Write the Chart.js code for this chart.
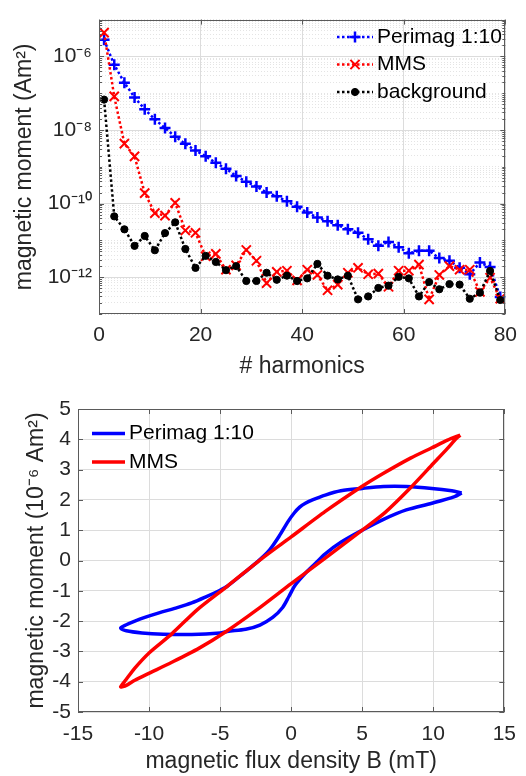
<!DOCTYPE html>
<html>
<head>
<meta charset="utf-8">
<script src="https://cdn.jsdelivr.net/npm/chart.js@4.4.0/dist/chart.umd.min.js"></script>
<style>
  html, body { margin: 0; padding: 0; background: #fff; }
  #top { position: absolute; left: 0; top: 0; width: 526px; height: 385px; }
  #bottom { position: absolute; left: 0; top: 385px; width: 526px; height: 391px; }
</style>
</head>
<body>
<div id="top"><canvas id="harmChart"></canvas></div>
<div id="bottom"><canvas id="loopChart"></canvas></div>
<script>
// ---- top: harmonic spectrum ----
const harmonics = [1, 3, 5, 7, 9, 11, 13, 15, 17, 19, 21, 23, 25, 27, 29, 31, 33, 35, 37, 39,
                   41, 43, 45, 47, 49, 51, 53, 55, 57, 59, 61, 63, 65, 67, 69, 71, 73, 75, 77, 79];
const perimagHarm = [2.83e-6, 5.9e-7, 1.93e-7, 7.7e-8, 3.66e-8, 1.95e-8, 1.13e-8, 6.6e-9, 4.2e-9, 2.77e-9,
                     1.92e-9, 1.28e-9, 8.9e-10, 5.6e-10, 3.9e-10, 2.9e-10, 2.0e-10, 1.58e-10, 1.15e-10, 8.2e-11,
                     5.7e-11, 4.2e-11, 3.3e-11, 2.6e-11, 2.0e-11, 1.62e-11, 1.07e-11, 7.1e-12, 9.1e-12, 6.5e-12,
                     4.5e-12, 5.2e-12, 5.2e-12, 3.3e-12, 2.8e-12, 1.8e-12, 1.2e-12, 2.5e-12, 1.9e-12, 2.9e-13];
const mmsHarm = [4.44e-6, 8.2e-8, 4.25e-9, 1.92e-9, 1.93e-10, 5.5e-11, 4.7e-11, 1.05e-10, 1.86e-11, 1.61e-11,
                 3.7e-12, 4.3e-12, 1.6e-12, 2.1e-12, 5.5e-12, 2.8e-12, 6.9e-13, 1.4e-12, 1.5e-12, 8.2e-13,
                 1.6e-12, 1.15e-12, 4.4e-13, 6.3e-13, 1.32e-12, 1.8e-12, 1.2e-12, 1.25e-12, 5.5e-13, 1.5e-12,
                 1.5e-12, 2.2e-12, 2.5e-13, 1.15e-12, 2.0e-12, 1.6e-12, 1.6e-12, 4.0e-13, 9.7e-13, 2.6e-13];
const backgroundHarm = [6.7e-8, 4.5e-11, 2.0e-11, 7.1e-12, 1.32e-11, 5.4e-12, 1.58e-11, 3.1e-11, 5.85e-12, 1.79e-12,
                        3.8e-12, 2.6e-12, 1.55e-12, 2.0e-12, 7.9e-13, 7.9e-13, 1.32e-12, 8.5e-13, 1.1e-12, 7.9e-13,
                        9.3e-13, 2.3e-12, 1.1e-12, 8.7e-13, 1.1e-12, 2.5e-13, 3.0e-13, 5.1e-13, 5.9e-13, 1.02e-12,
                        9.3e-13, 3.0e-13, 7.4e-13, 4.7e-13, 6.5e-13, 6.3e-13, 2.6e-13, 3.8e-13, 1.48e-12, 2.4e-13];
const harmXTicks = [0, 20, 40, 60, 80];
const harmYTickExp = [-12, -10, -8, -6];
const harmYTickLabels = ['10⁻¹²', '10⁻¹⁰', '10⁻⁸', '10⁻⁶'];

// ---- bottom: hysteresis loops, upper branch right->left then lower branch left->right ----
const perimagB = [12.0, 11.3, 9.9, 8.1, 6.5, 5.0, 3.5, 2.4, 1.5, 1.0, 0.6, 0.2, -0.2, -0.85, -1.5, -2.2, -3.3, -4.5,
                  -5.0, -6.0, -7.0, -8.2, -9.3, -10.3, -11.0, -11.6, -12.0,
                  -11.6, -10.5, -9.0, -7.0, -5.0, -4.5, -3.2, -2.2, -1.3, -0.6, -0.15, 0.3, 1.0, 1.7,
                  2.4, 3.5, 5.0, 6.5, 8.1, 9.9, 11.5, 12.0];
const perimagM = [2.23, 2.30, 2.38, 2.44, 2.44, 2.38, 2.30, 2.16, 2.00, 1.89, 1.76, 1.56, 1.30, 0.80, 0.36, 0.03, -0.40, -0.85,
                  -0.98, -1.20, -1.40, -1.58, -1.73, -1.88, -2.00, -2.12, -2.23,
                  -2.32, -2.39, -2.43, -2.44, -2.39, -2.34, -2.27, -2.13, -1.88, -1.55, -1.18, -0.80, -0.42, -0.10,
                  0.22, 0.60, 1.00, 1.36, 1.67, 1.89, 2.11, 2.23];
const mmsB = [11.9, 11.0, 9.9, 8.4, 6.5, 5.0, 2.4, 0.0, -2.0, -4.5, -6.6, -8.4, -10.0, -11.0, -11.6, -12.0,
              -11.6, -11.0, -9.9, -8.4, -6.5, -4.6, -2.4, 0.0, 2.4, 5.0, 6.6, 8.4, 10.0, 11.0, 11.6, 11.9];
const mmsM = [4.14, 3.97, 3.72, 3.38, 2.88, 2.45, 1.62, 0.78, 0.09, -0.85, -1.62, -2.42, -3.05, -3.55, -3.92, -4.17,
              -4.12, -3.95, -3.70, -3.36, -2.90, -2.35, -1.62, -0.76, 0.08, 1.00, 1.58, 2.40, 3.20, 3.70, 4.02, 4.14];
const loopXTicks = [-15, -10, -5, 0, 5, 10, 15];
const loopYTicks = [-5, -4, -3, -2, -1, 0, 1, 2, 3, 4, 5];

const FONT = '"Liberation Sans", Arial, Helvetica, sans-serif';
const AXIS_COLOR = '#262626';
Chart.defaults.font.family = FONT;
Chart.defaults.color = AXIS_COLOR;

function toPoints(xs, ys) {
  return xs.map((x, i) => ({ x: x, y: ys[i] }));
}

function isLabelledDecade(v) {
  const e = Math.log10(v);
  return Math.abs(e - Math.round(e)) < 1e-6 && harmYTickExp.includes(Math.round(e));
}

// box round the plot and short inward ticks, as matlab draws them
const matlabBox = {
  id: 'matlabBox',
  afterDraw(chart, args, opts) {
    const { ctx, chartArea: a, scales } = chart;
    ctx.save();
    ctx.strokeStyle = '#5a5a5a';
    ctx.lineWidth = 1;
    ctx.strokeRect(Math.round(a.left) + 0.5, Math.round(a.top) + 0.5,
                   Math.round(a.right - a.left) - 1, Math.round(a.bottom - a.top) - 1);
    ctx.beginPath();
    scales.x.ticks.forEach(t => {
      const px = Math.round(scales.x.getPixelForValue(t.value)) + 0.5;
      ctx.moveTo(px, a.bottom); ctx.lineTo(px, a.bottom - 5);
      ctx.moveTo(px, a.top); ctx.lineTo(px, a.top + 5);
    });
    scales.y.ticks.forEach(t => {
      const py = Math.round(scales.y.getPixelForValue(t.value)) + 0.5;
      const len = opts.logY && !isLabelledDecade(t.value) ? 3 : 5;
      ctx.moveTo(a.left, py); ctx.lineTo(a.left + len, py);
      ctx.moveTo(a.right, py); ctx.lineTo(a.right - len, py);
    });
    ctx.stroke();
    ctx.restore();
  }
};

// legend drawn inside the axes
const innerLegend = {
  id: 'innerLegend',
  afterDraw(chart, args, opts) {
    const ctx = chart.ctx;
    ctx.save();
    ctx.font = opts.size + 'px ' + FONT;
    ctx.textBaseline = 'middle';
    chart.data.datasets.forEach((ds, k) => {
      const y = opts.y + k * opts.spacing;
      ctx.strokeStyle = ds.borderColor;
      ctx.lineWidth = opts.lineWidth || ds.borderWidth;
      ctx.setLineDash(ds.borderDash || []);
      ctx.beginPath();
      ctx.moveTo(opts.x, y);
      ctx.lineTo(opts.x + opts.len, y);
      ctx.stroke();
      ctx.setLineDash([]);
      if (ds.pointRadius > 0) {
        ctx.fillStyle = ds.pointBackgroundColor;
        ctx.strokeStyle = ds.pointBorderColor;
        ctx.lineWidth = ds.pointBorderWidth;
        Chart.helpers.drawPoint(ctx, { pointStyle: ds.pointStyle, radius: ds.pointRadius, rotation: 0,
                                       borderWidth: ds.pointBorderWidth }, opts.x + opts.len / 2, y);
      }
      ctx.fillStyle = '#000';
      ctx.fillText(ds.label, opts.x + opts.len + opts.gap, y);
    });
    ctx.restore();
  }
};

const minorGrid = '#e4e4e4';
const majorGrid = '#dcdcdc';

new Chart(document.getElementById('harmChart'), {
  type: 'line',
  data: {
    datasets: [
      { label: 'Perimag 1:10', data: toPoints(harmonics, perimagHarm), order: 3,
        borderColor: '#0000ff', borderWidth: 2.5, borderDash: [2.5, 2.5], tension: 0,
        pointStyle: 'cross', pointRadius: 5.5, pointBorderWidth: 2.5,
        pointBorderColor: '#0000ff', pointBackgroundColor: '#0000ff' },
      { label: 'MMS', data: toPoints(harmonics, mmsHarm), order: 2,
        borderColor: '#ff0000', borderWidth: 2.5, borderDash: [2.5, 2.5], tension: 0,
        pointStyle: 'crossRot', pointRadius: 6.5, pointBorderWidth: 2,
        pointBorderColor: '#ff0000', pointBackgroundColor: '#ff0000' },
      { label: 'background', data: toPoints(harmonics, backgroundHarm), order: 1,
        borderColor: '#000000', borderWidth: 2.5, borderDash: [2.5, 2.5], tension: 0,
        pointStyle: 'circle', pointRadius: 3.6, pointBorderWidth: 1,
        pointBorderColor: '#000000', pointBackgroundColor: '#000000' }
    ]
  },
  options: {
    responsive: true, maintainAspectRatio: false, animation: false,
    layout: { padding: { top: 12, right: 16, left: 0, bottom: 0 } },
    plugins: {
      legend: { display: false }, tooltip: { enabled: false },
      innerLegend: { x: 337, y: 37, spacing: 27.5, len: 36, gap: 4, size: 21 },
      matlabBox: { logY: true }
    },
    scales: {
      x: {
        type: 'linear', min: 0, max: 80,
        afterBuildTicks: s => { s.ticks = harmXTicks.map(v => ({ value: v })); },
        afterFit: s => { s.height = 71; },
        ticks: { font: { size: 21 }, padding: 9, maxRotation: 0 },
        grid: { color: majorGrid, drawTicks: false },
        border: { display: false },
        title: { display: true, text: '# harmonics', font: { size: 23 }, padding: { top: 0, bottom: 5 } }
      },
      y: {
        type: 'logarithmic', min: 1e-13, max: 1e-5,
        afterBuildTicks: s => {
          const t = [];
          for (let e = -13; e <= -5; e++) {
            for (let d = 1; d <= 9; d++) {
              if (e === -5 && d > 1) break;
              t.push({ value: d * Math.pow(10, e) });
            }
          }
          s.ticks = t;
        },
        afterFit: s => { s.width = 99; },
        ticks: {
          autoSkip: false, font: { size: 21 }, padding: 7,
          callback: v => {
            if (!isLabelledDecade(v)) return '';
            return harmYTickLabels[harmYTickExp.indexOf(Math.round(Math.log10(v)))];
          }
        },
        grid: {
          drawTicks: false,
          color: c => (c.tick && isLabelledDecade(c.tick.value)) ? majorGrid : minorGrid
        },
        border: {
          display: false,
          dash: c => (c.tick && !isLabelledDecade(c.tick.value)) ? [1, 2] : []
        },
        title: { display: true, text: 'magnetic moment (Am²)', font: { size: 23 }, padding: { top: 11, bottom: 0 } }
      }
    }
  },
  plugins: [matlabBox, innerLegend]
});

new Chart(document.getElementById('loopChart'), {
  type: 'scatter',
  data: {
    datasets: [
      { label: 'Perimag 1:10', data: toPoints(perimagB, perimagM), order: 2, showLine: true,
        borderColor: '#0000ff', borderWidth: 3.5, tension: 0.3, pointRadius: 0 },
      { label: 'MMS', data: toPoints(mmsB, mmsM), order: 1, showLine: true,
        borderColor: '#ff0000', borderWidth: 3.5, tension: 0.25, pointRadius: 0 }
    ]
  },
  options: {
    responsive: true, maintainAspectRatio: false, animation: false,
    layout: { padding: { top: 24, right: 13, left: 0, bottom: 0 } },
    plugins: {
      legend: { display: false }, tooltip: { enabled: false },
      innerLegend: { x: 92, y: 48.5, spacing: 28.5, len: 33, gap: 4, size: 21, lineWidth: 3.5 },
      matlabBox: { logY: false }
    },
    scales: {
      x: {
        type: 'linear', min: -15, max: 15,
        afterBuildTicks: s => { s.ticks = loopXTicks.map(v => ({ value: v })); },
        afterFit: s => { s.height = 64; },
        ticks: { font: { size: 21 }, padding: 10, maxRotation: 0 },
        grid: { color: majorGrid, drawTicks: false },
        border: { display: false },
        title: { display: true, text: 'magnetic flux density B (mT)', font: { size: 23 }, padding: { top: 0, bottom: 1 } }
      },
      y: {
        type: 'linear', min: -5, max: 5,
        afterBuildTicks: s => { s.ticks = loopYTicks.map(v => ({ value: v })); },
        afterFit: s => { s.width = 78; },
        ticks: { autoSkip: false, font: { size: 21 }, padding: 7 },
        grid: { color: majorGrid, drawTicks: false },
        border: { display: false },
        title: { display: true, text: 'magnetic moment (10⁻⁶ Am²)', font: { size: 23 }, padding: { top: 23, bottom: 0 } }
      }
    }
  },
  plugins: [matlabBox, innerLegend]
});
</script>
</body>
</html>
